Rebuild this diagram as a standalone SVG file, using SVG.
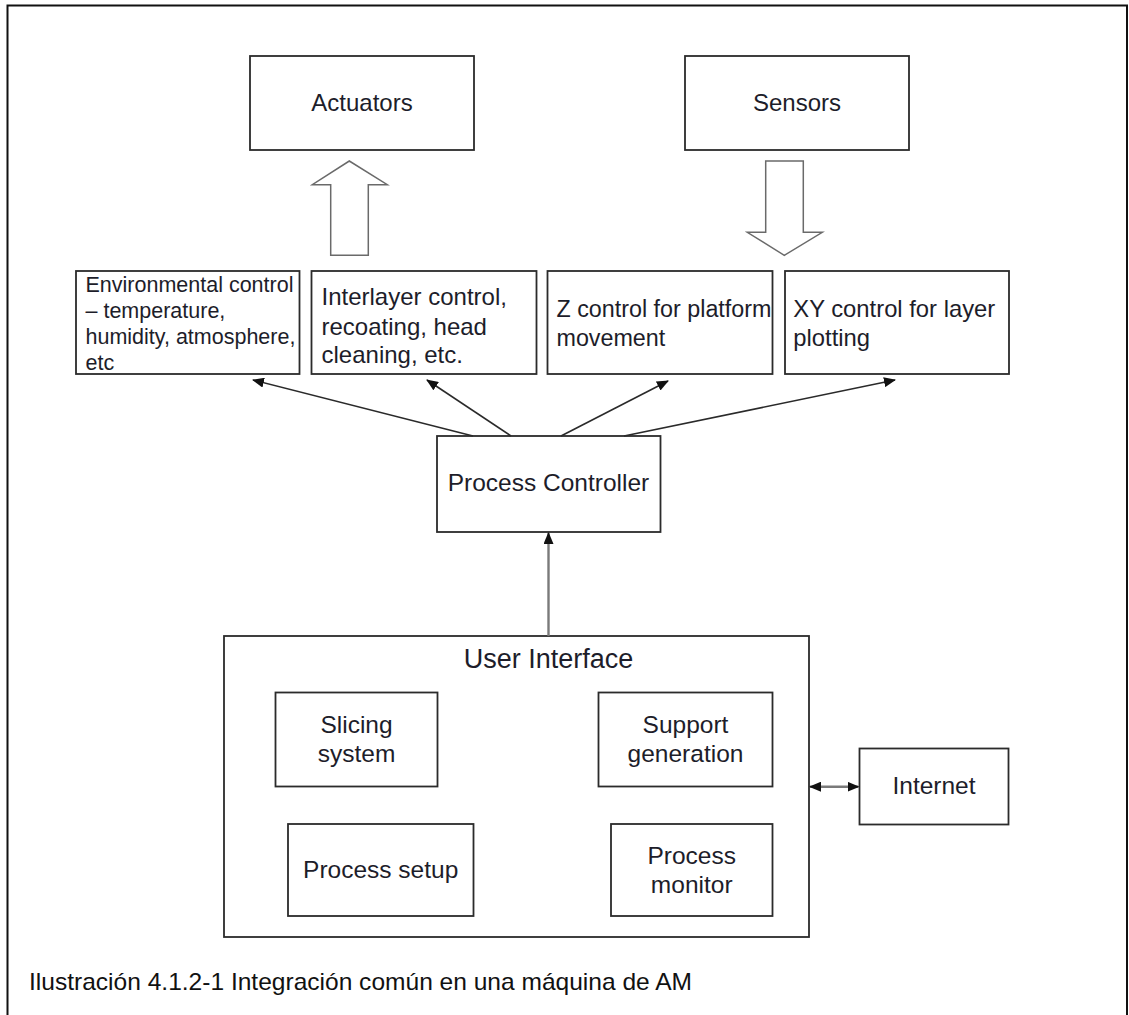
<svg xmlns="http://www.w3.org/2000/svg" width="1129" height="1015" viewBox="0 0 1129 1015">
<style>
.box{fill:#fff;stroke:#2b2b2b;stroke-width:1.8}
.hollow{fill:#fff;stroke:#6a6a6a;stroke-width:1.5;stroke-linejoin:miter}
.t{font-family:"Liberation Sans",Arial,sans-serif;fill:#1d1d2a}
.c{text-anchor:middle}
.con{stroke:#2a2a2a;stroke-width:1.6;fill:none}
.gray{stroke:#7a7a7a;stroke-width:2.4;fill:none}
.cap{font-family:"Liberation Sans",Arial,sans-serif;fill:#111;font-size:24px}
</style>
<defs>
<marker id="ah" viewBox="0 0 12 10" refX="11" refY="5" markerWidth="12" markerHeight="10" markerUnits="userSpaceOnUse" orient="auto">
<path d="M0,0 L12,5 L0,10 z" fill="#111"/>
</marker>
<marker id="ahs" viewBox="0 0 12 10" refX="1" refY="5" markerWidth="12" markerHeight="10" markerUnits="userSpaceOnUse" orient="auto">
<path d="M12,0 L0,5 L12,10 z" fill="#111"/>
</marker>
</defs>
<rect width="1129" height="1015" fill="#fff"/>
<path d="M7.5,1015 V5.5 H1127 V1015" fill="none" stroke="#111" stroke-width="2"/>

<g id="actuators"><rect class="box" x="250" y="56" width="224" height="94"/><text class="t c" x="362" y="111" font-size="24">Actuators</text></g>
<g id="sensors"><rect class="box" x="685" y="56" width="224" height="94"/><text class="t c" x="797" y="111" font-size="24">Sensors</text></g>

<g id="env"><rect class="box" x="76" y="271" width="223.5" height="103"/>
<text class="t" font-size="21.5"><tspan x="85.5" y="291.7">Environmental control</tspan><tspan x="85.5" y="317.7">– temperature,</tspan><tspan x="85.5" y="344">humidity, atmosphere,</tspan><tspan x="85.5" y="370">etc</tspan></text></g>
<g id="interlayer"><rect class="box" x="311.5" y="271" width="225" height="103"/>
<text class="t" font-size="24"><tspan x="321.5" y="305">Interlayer control,</tspan><tspan x="321.5" y="335">recoating, head</tspan><tspan x="321.5" y="363.3">cleaning, etc.</tspan></text></g>
<g id="zcontrol"><rect class="box" x="547.5" y="271" width="225" height="103"/>
<text class="t" font-size="23.3"><tspan x="556.5" y="317.3">Z control for platform</tspan><tspan x="556.5" y="345.7">movement</tspan></text></g>
<g id="xycontrol"><rect class="box" x="785" y="271" width="224" height="103"/>
<text class="t" font-size="23.8"><tspan x="793.3" y="317.3">XY control for layer</tspan><tspan x="793.3" y="345.7">plotting</tspan></text></g>

<g id="process-controller"><rect class="box" x="437" y="436" width="223.5" height="96"/><text class="t c" x="548.5" y="491" font-size="24.5">Process Controller</text></g>

<g id="user-interface"><rect class="box" x="224" y="636" width="585" height="301"/><text class="t c" x="548.5" y="668.3" font-size="27">User Interface</text></g>
<g id="slicing"><rect class="box" x="275.5" y="692.5" width="162" height="94"/><text class="t c" font-size="24.5"><tspan x="356.5" y="733.3">Slicing</tspan><tspan x="356.5" y="761.7">system</tspan></text></g>
<g id="support"><rect class="box" x="598.5" y="692.5" width="174" height="94"/><text class="t c" font-size="24.5"><tspan x="685.5" y="733.3">Support</tspan><tspan x="685.5" y="761.7">generation</tspan></text></g>
<g id="process-setup"><rect class="box" x="288" y="824" width="185.5" height="92"/><text class="t c" x="380.7" y="878.3" font-size="24.5">Process setup</text></g>
<g id="process-monitor"><rect class="box" x="611" y="824" width="161.5" height="92"/><text class="t c" font-size="24.5"><tspan x="691.7" y="864.3">Process</tspan><tspan x="691.7" y="892.7">monitor</tspan></text></g>
<g id="internet"><rect class="box" x="859.5" y="748.5" width="149" height="76"/><text class="t c" x="934" y="794.3" font-size="24.5">Internet</text></g>

<g id="connectors">
<polygon class="hollow" points="330.7,255.3 368.3,255.3 368.3,184.7 387.3,184.7 349.3,161 312.3,184.7 330.7,184.7"/>
<polygon class="hollow" points="765.7,161 803.3,161 803.3,232.3 822.3,232.3 784.3,255.3 747.3,232.3 765.7,232.3"/>
<line class="con" x1="473" y1="436" x2="253" y2="380" marker-end="url(#ah)"/>
<line class="con" x1="511" y1="436" x2="427" y2="380" marker-end="url(#ah)"/>
<line class="con" x1="561" y1="436" x2="668" y2="381" marker-end="url(#ah)"/>
<line class="con" x1="624" y1="436" x2="895" y2="380" marker-end="url(#ah)"/>
<line class="gray" x1="548.5" y1="636" x2="548.5" y2="533" marker-end="url(#ah)"/>
<line class="gray" x1="810" y1="786.7" x2="858.5" y2="786.7" marker-start="url(#ahs)" marker-end="url(#ah)"/>
</g>

<text class="cap" x="29" y="990" textLength="663" lengthAdjust="spacingAndGlyphs">Ilustración 4.1.2-1 Integración común en una máquina de AM</text>
</svg>
